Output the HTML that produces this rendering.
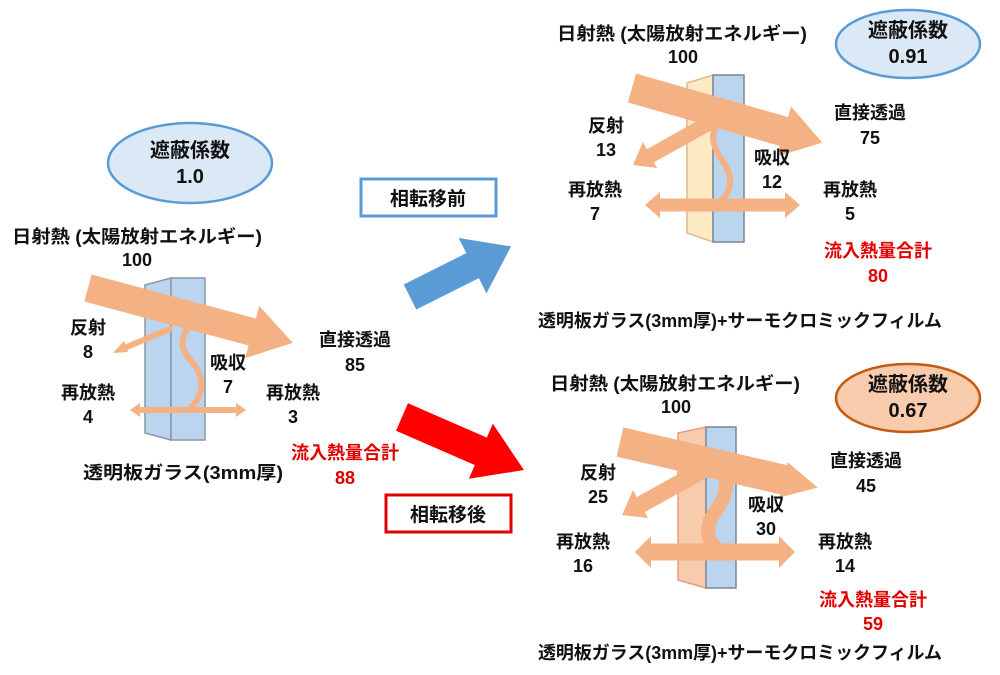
<!DOCTYPE html>
<html><head><meta charset="utf-8"><style>
html,body{margin:0;padding:0;background:#fff;}
svg{display:block;}
text{font-family:"Liberation Sans","Noto Sans CJK JP",sans-serif;font-weight:bold;fill:#111;font-size:18px;}
.r{fill:#e00000;}
</style></head><body>
<svg width="1000" height="675" viewBox="0 0 1000 675" xmlns="http://www.w3.org/2000/svg">

<!-- ===== LEFT PANEL ===== -->
<ellipse cx="190" cy="163" rx="82" ry="40" fill="#dbe8f5" stroke="#5b9bd5" stroke-width="2.5"/>
<text x="190" y="157" style="font-size:20px" text-anchor="middle">遮蔽係数</text>
<text x="190" y="183" style="font-size:20px" text-anchor="middle">1.0</text>

<text x="12" y="243" textLength="250" lengthAdjust="spacingAndGlyphs">日射熱 (太陽放射エネルギー)</text>
<text x="137" y="266" text-anchor="middle">100</text>

<polygon points="145,285 171,278 171,440 145,433" fill="#bcd5ee" stroke="#8a97a6" stroke-width="1.5"/>
<rect x="171" y="278" width="34" height="162" fill="#bcd5ee" stroke="#8a97a6" stroke-width="1.5"/>

<g transform="translate(88,288) rotate(15)">
<rect x="0" y="-14" width="172" height="28" fill="#f4b183"/>
<polygon points="170,-27 212,0 170,27" fill="#f4b183"/>
</g>
<line x1="172" y1="328" x2="122" y2="349" stroke="#f4b183" stroke-width="6"/>
<polygon points="113,353 124,341 128,352" fill="#f4b183"/>
<path d="M190,325 C178,340 182,352 192,362 C204,375 205,395 190,408" fill="none" stroke="#f4b183" stroke-width="6"/>
<line x1="138" y1="410" x2="236" y2="410" stroke="#f4b183" stroke-width="6"/>
<polygon points="130,410 140,403 140,417" fill="#f4b183"/>
<polygon points="246,410 236,403 236,417" fill="#f4b183"/>

<text x="88" y="334" text-anchor="middle">反射</text>
<text x="88" y="358" text-anchor="middle">8</text>
<text x="228" y="369" text-anchor="middle">吸収</text>
<text x="228" y="393" text-anchor="middle">7</text>
<text x="88" y="399" text-anchor="middle">再放熱</text>
<text x="88" y="423" text-anchor="middle">4</text>
<text x="293" y="399" text-anchor="middle">再放熱</text>
<text x="293" y="423" text-anchor="middle">3</text>
<text x="355" y="346" text-anchor="middle">直接透過</text>
<text x="355" y="371" text-anchor="middle">85</text>
<text x="345" y="459" text-anchor="middle" class="r">流入熱量合計</text>
<text x="345" y="484" text-anchor="middle" class="r">88</text>
<text x="83" y="479" textLength="200" lengthAdjust="spacingAndGlyphs">透明板ガラス(3mm厚)</text>

<!-- ===== MIDDLE ===== -->
<rect x="361" y="179" width="135" height="37" fill="#fff" stroke="#5b9bd5" stroke-width="3"/>
<text x="428" y="205" style="font-size:19px" text-anchor="middle">相転移前</text>
<rect x="386" y="495" width="125" height="37" fill="#fff" stroke="#e00000" stroke-width="3"/>
<text x="448" y="521" style="font-size:19px" text-anchor="middle">相転移後</text>

<g transform="translate(410,297) rotate(-26.6)">
<rect x="0" y="-14" width="72" height="28" fill="#5b9bd5"/>
<polygon points="70,-31 113,0 70,31" fill="#5b9bd5"/>
</g>
<g transform="translate(402,417) rotate(23.5)">
<rect x="0" y="-15" width="88" height="30" fill="#ff0000"/>
<polygon points="86,-30 133,0 86,30" fill="#ff0000"/>
</g>

<!-- ===== TOP RIGHT ===== -->
<ellipse cx="908" cy="44" rx="72" ry="34" fill="#dbe8f5" stroke="#5b9bd5" stroke-width="2.5"/>
<text x="908" y="37" style="font-size:20px" text-anchor="middle">遮蔽係数</text>
<text x="908" y="63" style="font-size:20px" text-anchor="middle">0.91</text>

<text x="557" y="40" textLength="250" lengthAdjust="spacingAndGlyphs">日射熱 (太陽放射エネルギー)</text>
<text x="683" y="63" text-anchor="middle">100</text>

<polygon points="687,83 713,75 713,242 687,233" fill="#fde9c4" stroke="#e0b88a" stroke-width="1.5"/>
<rect x="713" y="75" width="31" height="167" fill="#bcd5ee" stroke="#7a8796" stroke-width="1.5"/>

<g transform="translate(632,88) rotate(16)">
<rect x="0" y="-15" width="160" height="30" fill="#f4b183"/>
<polygon points="158,-26 198,0 158,26" fill="#f4b183"/>
</g>
<line x1="718" y1="118" x2="650" y2="156" stroke="#f4b183" stroke-width="15"/>
<polygon points="633,165 643,142 657,168" fill="#f4b183"/>
<path d="M718,122 C710,135 712,145 722,160 C735,178 732,195 715,205" fill="none" stroke="#f4b183" stroke-width="6"/>
<line x1="660" y1="205" x2="785" y2="205" stroke="#f4b183" stroke-width="13"/>
<polygon points="645,205 660,192 660,218" fill="#f4b183"/>
<polygon points="800,205 785,192 785,218" fill="#f4b183"/>

<text x="606" y="132" text-anchor="middle">反射</text>
<text x="606" y="156" text-anchor="middle">13</text>
<text x="772" y="164" text-anchor="middle">吸収</text>
<text x="772" y="188" text-anchor="middle">12</text>
<text x="595" y="196" text-anchor="middle">再放熱</text>
<text x="595" y="220" text-anchor="middle">7</text>
<text x="850" y="196" text-anchor="middle">再放熱</text>
<text x="850" y="220" text-anchor="middle">5</text>
<text x="870" y="119" text-anchor="middle">直接透過</text>
<text x="870" y="144" text-anchor="middle">75</text>
<text x="878" y="257" text-anchor="middle" class="r">流入熱量合計</text>
<text x="878" y="282" text-anchor="middle" class="r">80</text>
<text x="538" y="327" textLength="404" lengthAdjust="spacingAndGlyphs">透明板ガラス(3mm厚)+サーモクロミックフィルム</text>

<!-- ===== BOTTOM RIGHT ===== -->
<ellipse cx="908" cy="398" rx="72" ry="34" fill="#f8cbad" stroke="#c55a11" stroke-width="2.5"/>
<text x="908" y="391" style="font-size:20px" text-anchor="middle">遮蔽係数</text>
<text x="908" y="417" style="font-size:20px" text-anchor="middle">0.67</text>

<text x="550" y="390" textLength="250" lengthAdjust="spacingAndGlyphs">日射熱 (太陽放射エネルギー)</text>
<text x="676" y="413" text-anchor="middle">100</text>

<polygon points="678,433 706,427 706,588 678,580" fill="#f8cbad" stroke="#e0a080" stroke-width="1.5"/>
<rect x="706" y="427" width="30" height="161" fill="#bcd5ee" stroke="#7a8796" stroke-width="1.5"/>

<g transform="translate(620,442) rotate(13)">
<rect x="0" y="-15" width="170" height="30" fill="#f4b183"/>
<polygon points="168,-18 203,0 168,18" fill="#f4b183"/>
</g>
<line x1="712" y1="465" x2="640" y2="505" stroke="#f4b183" stroke-width="17"/>
<polygon points="622,515 633,490 648,518" fill="#f4b183"/>
<path d="M718,465 C730,480 728,495 715,512 C702,530 708,545 725,555" fill="none" stroke="#f4b183" stroke-width="14"/>
<line x1="650" y1="552" x2="780" y2="552" stroke="#f4b183" stroke-width="17"/>
<polygon points="635,552 651,536 651,568" fill="#f4b183"/>
<polygon points="795,552 779,536 779,568" fill="#f4b183"/>

<text x="598" y="479" text-anchor="middle">反射</text>
<text x="598" y="503" text-anchor="middle">25</text>
<text x="766" y="511" text-anchor="middle">吸収</text>
<text x="766" y="535" text-anchor="middle">30</text>
<text x="583" y="548" text-anchor="middle">再放熱</text>
<text x="583" y="572" text-anchor="middle">16</text>
<text x="845" y="548" text-anchor="middle">再放熱</text>
<text x="845" y="572" text-anchor="middle">14</text>
<text x="866" y="467" text-anchor="middle">直接透過</text>
<text x="866" y="492" text-anchor="middle">45</text>
<text x="873" y="606" text-anchor="middle" class="r">流入熱量合計</text>
<text x="873" y="630" text-anchor="middle" class="r">59</text>
<text x="538" y="659" textLength="404" lengthAdjust="spacingAndGlyphs">透明板ガラス(3mm厚)+サーモクロミックフィルム</text>
</svg>
</body></html>
